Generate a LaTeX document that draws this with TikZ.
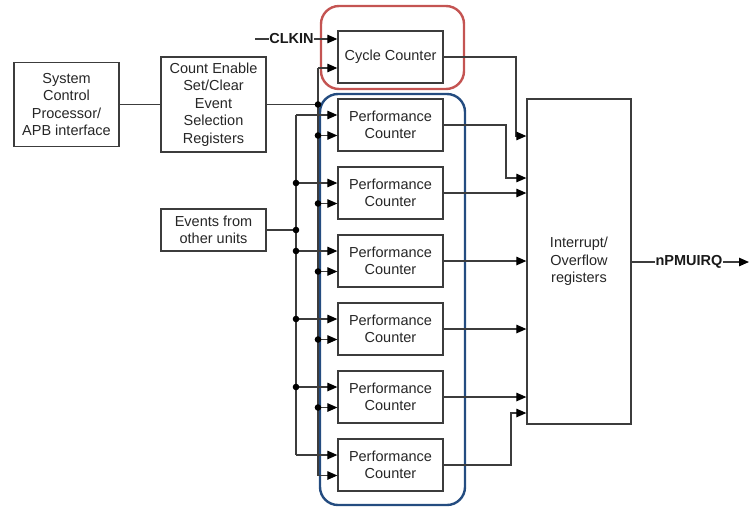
\documentclass[tikz,border=0pt]{standalone}
\usepackage{fontspec}
\setmainfont{Liberation Sans}
\usetikzlibrary{arrows.meta,calc}
\definecolor{linegray}{RGB}{60,60,60}
\definecolor{redframe}{RGB}{196,84,82}
\definecolor{blueframe}{RGB}{36,76,128}
\tikzset{
  blk/.style={draw=linegray,line width=1.3pt,rectangle,inner sep=0pt,align=center,
    text=black!85,font=\fontsize{14.5}{17.6}\selectfont},
  wire/.style={draw=linegray,line width=1.2pt},
  arr/.style={wire,-{Triangle[length=10pt,width=8.5pt,color=black]}},
  sig/.style={inner sep=0.6pt,font=\fontsize{14.5}{17.6}\selectfont\bfseries,text=black!90},
  jdot/.style={fill=black,draw=none},
  frame/.style={line width=2.4pt,rounded corners=18pt}
}
\begin{document}
\begin{tikzpicture}[x=1pt,y=-1pt]
\useasboundingbox (0,0) rectangle (749,507);
% group frames
\draw[frame,draw=redframe] (321,6) rectangle (464,89);
\draw[frame,draw=blueframe] (320,94) rectangle (465,505);
% blocks
\node[blk,minimum width=105pt,minimum height=84pt] (sys) at (66.5,104.5) {System\\Control\\Processor/\\APB interface};
\node[blk,minimum width=105pt,minimum height=95pt] (cnt) at (213.5,104.5) {Count Enable\\Set/Clear\\Event\\Selection\\Registers};
\node[blk,minimum width=105pt,minimum height=42pt] (evt) at (213.5,230) {Events from\\other units};
\node[blk,minimum width=105pt,minimum height=52pt] (cyc) at (390.5,57) {Cycle Counter};
\foreach \i/\t in {1/99,2/167,3/235,4/303,5/371,6/439}
  \node[blk,minimum width=105pt,minimum height=52pt] (pc\i) at (390.5,\t+26) {Performance\\Counter};
\node[blk,minimum width=104pt,minimum height=325pt] (irq) at (579,261.5) {Interrupt/\\Overflow\\registers};
% signal labels
\node[sig] (clk) at (291.5,39) {CLKIN};
\node[sig] (pmu) at (689,262) {nPMUIRQ};
\coordinate (clkstart) at (255,39);
\coordinate (pmuend) at (749,262);
% input points
\coordinate (cyc-a) at ([yshift=18pt]cyc.west);
\coordinate (cyc-b) at ([yshift=-11pt]cyc.west);
\foreach \i in {1,...,6}{
  \coordinate (pc\i-a) at ([yshift=10pt]pc\i.west);
  \coordinate (pc\i-b) at ([yshift=-10.5pt]pc\i.west);
}
% bus junctions
\coordinate (jA) at (296,230);
\coordinate (jB) at (318,104.5);
% left connections
\draw[wire] (sys.east) -- (cnt.west);
\draw[wire] (cnt.east) -- (jB);
\draw[wire] (evt.east) -- (jA);
% CLKIN
\draw[wire] (clkstart) -- (clk.west);
\draw[arr] (clk.east) -- (cyc-a);
% bus A (events)
\draw[wire] (pc1-a -| jA) -- (pc6-a -| jA);
\foreach \i in {1,...,6}
  \draw[arr] (pc\i-a -| jA) -- (pc\i-a);
% bus B (count enable)
\draw[wire] (cyc-b -| jB) -- (pc6-b -| jB);
\draw[arr] (cyc-b -| jB) -- (cyc-b);
\foreach \i in {1,...,6}
  \draw[arr] (pc\i-b -| jB) -- (pc\i-b);
% junction dots
\fill[jdot] (jA) circle (3.3pt);
\fill[jdot] (jB) circle (3.3pt);
\foreach \i in {2,...,5}
  \fill[jdot] (pc\i-a -| jA) circle (3.3pt);
\foreach \i in {1,...,5}
  \fill[jdot] (pc\i-b -| jB) circle (3.3pt);
% outputs to interrupt block
\coordinate (c1) at (516,136);
\coordinate (c2) at (506,178);
\coordinate (c3) at (511,413);
\draw[arr] (cyc.east) -| (c1) -- (c1 -| irq.west);
\draw[arr] (pc1.east) -| (c2) -- (c2 -| irq.west);
\foreach \i in {2,...,5}
  \draw[arr] (pc\i.east) -- (pc\i.east -| irq.west);
\draw[arr] (pc6.east) -| (c3) -- (c3 -| irq.west);
% nPMUIRQ
\draw[wire] (irq.east |- pmu) -- (pmu.west);
\draw[arr] (pmu.east) -- (pmuend);
\end{tikzpicture}
\end{document}
